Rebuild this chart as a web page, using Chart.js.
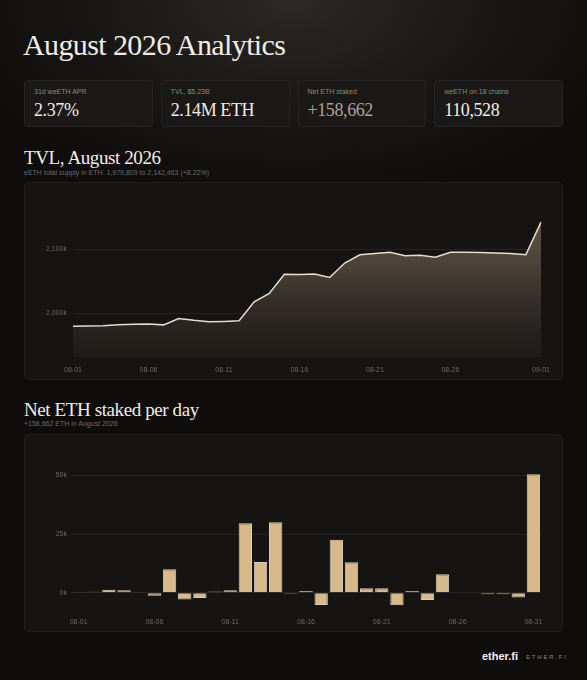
<!DOCTYPE html>
<html>
<head>
<meta charset="utf-8">
<script src="https://cdn.jsdelivr.net/npm/chart.js@4.4.1/dist/chart.umd.min.js"></script>
<style>
  html, body { margin: 0; padding: 0; }
  body {
    width: 587px; height: 680px; position: relative; overflow: hidden;
    background: radial-gradient(ellipse 60% 30% at 50% 0%, #2b2825 0%, #181614 60%, #0f0d0c 100%), #0f0d0c;
    background-color: #0f0d0c;
    font-family: "Liberation Sans", Arial, sans-serif;
  }
  .serif { font-family: "Liberation Serif", "DejaVu Serif", serif; }
  h1 {
    position: absolute; left: 23px; top: 30px; margin: 0;
    font-weight: normal; font-size: 30px; line-height: 30px; letter-spacing: -0.6px;
    color: #f1ece4;
  }
  .stats { position: absolute; left: 24px; top: 80px; width: 539px; display: flex; gap: 8px; }
  .stat {
    flex: 1; height: 47px; box-sizing: border-box; border-radius: 4px;
    background: #1b1917; border: 1px solid rgba(255,255,255,0.05); position: relative;
  }
  .stat .lab { position: absolute; left: 9px; top: 7px; font-size: 7px; color: #8d877e; }
  .stat .val { position: absolute; left: 9px; top: 19px; font-size: 18px; line-height: 20px; letter-spacing: -0.4px; color: #f1ece4; }
  .stat .val.dim { color: #a9a299; }
  h2 {
    position: absolute; left: 24px; margin: 0; font-weight: normal;
    font-size: 19px; line-height: 19px; letter-spacing: -0.4px; color: #f1ece4;
  }
  .sub { position: absolute; left: 24px; font-size: 7px; color: #6e6a65; }
  .card {
    position: absolute; left: 24px; width: 539px; height: 198px; box-sizing: border-box;
    background: #161412; border: 1px solid rgba(255,255,255,0.05); border-radius: 5px;
  }
  .card canvas { position: absolute; left: -1px; top: -1px; }
  .logo { position: absolute; left: 482px; top: 650px; font-size: 11px; font-weight: bold; color: #f4f0ea; }
  .brand { position: absolute; left: 526px; top: 654px; font-size: 6px; letter-spacing: 1.8px; color: #8a847c; }
</style>
</head>
<body>
<h1 class="serif">August 2026 Analytics</h1>

<div class="stats">
  <div class="stat"><div class="lab">31d weETH APR</div><div class="val serif">2.37%</div></div>
  <div class="stat"><div class="lab">TVL, $5.23B</div><div class="val serif">2.14M ETH</div></div>
  <div class="stat"><div class="lab">Net ETH staked</div><div class="val serif dim">+158,662</div></div>
  <div class="stat"><div class="lab">weETH on 18 chains</div><div class="val serif">110,528</div></div>
</div>

<h2 class="serif" style="top:148px">TVL, August 2026</h2>
<div class="sub" style="top:169px">eETH total supply in ETH. 1,979,809 to 2,142,463 (+8.22%)</div>
<div class="card" style="top:182px"><canvas id="tvl" width="539" height="198"></canvas></div>

<h2 class="serif" style="top:400px">Net ETH staked per day</h2>
<div class="sub" style="top:420px">+158,662 ETH in August 2026</div>
<div class="card" style="top:434px"><canvas id="net" width="539" height="198"></canvas></div>

<div class="logo">ether.fi</div>
<div class="brand">ETHER.FI</div>

<script>
const tvlDates = ['08-01', '08-02', '08-03', '08-04', '08-05', '08-06', '08-07', '08-08', '08-09', '08-10',
  '08-11', '08-12', '08-13', '08-14', '08-15', '08-16', '08-17', '08-18', '08-19', '08-20',
  '08-21', '08-22', '08-23', '08-24', '08-25', '08-26', '08-27', '08-28', '08-29', '08-30',
  '08-31', '09-01']
const tvlEth = [1979809, 1980200, 1980600, 1981900, 1982900, 1983200, 1981900, 1991900, 1989000, 1986700,
  1987200, 1988200, 2017800, 2030900, 2060900, 2060500, 2061200, 2055900, 2078500, 2091500,
  2093400, 2095300, 2089900, 2090600, 2087500, 2095400, 2095200, 2095000, 2094300, 2093600,
  2091600, 2142463]
const tvlTicks = [2000000, 2100000]

const netDates = tvlDates.slice(0, 31)
const netStaked = [300, 400, 1300, 1000, 300, -1300, 10000, -2900, -2300, 500,
  1000, 29600, 13100, 30000, -400, 700, -5300, 22600, 13000, 1900,
  1900, -5400, 700, -3100, 7900, -200, -200, -700, -700, -2000,
  50500]
const netTicks = [0, 25000, 50000]

const tickFont = { family: 'Liberation Sans', size: 7 }
const tickColor = '#6c675f'
const gridColor = 'rgba(255,255,255,0.07)'

// every 5th day, plus the last one (dropping a 5th day that sits too close to it)
function keepTicks(scale) {
  const last = scale.ticks.length - 1
  scale.ticks = scale.ticks.filter((t, i) => i === last || (i % 5 === 0 && last - i >= 3))
}

function tvlChart() {
  const ctx = document.getElementById('tvl').getContext('2d')
  const config = {
    type: 'line',
    data: {
      labels: tvlDates,
      datasets: [
        {
          data: tvlEth,
          borderColor: '#e6ddcf',
          borderWidth: 1.5,
          pointRadius: 0,
          tension: 0,
          fill: 'start',
          backgroundColor: (c) => {
            const area = c.chart.chartArea
            if (!area) return 'rgba(90,80,68,0.5)'
            const g = c.chart.ctx.createLinearGradient(0, area.top, 0, area.bottom)
            g.addColorStop(0, 'rgba(120,106,88,0.85)')
            g.addColorStop(0.45, 'rgba(88,78,66,0.75)')
            g.addColorStop(1, 'rgba(45,40,35,0.35)')
            return g
          }
        }
      ]
    },
    options: {
      responsive: false,
      animation: false,
      layout: { padding: { top: 20, right: 22, left: 0, bottom: 0 } },
      plugins: { legend: { display: false }, tooltip: { enabled: false } },
      scales: {
        x: {
          offset: false,
          grid: { display: false, drawTicks: false, tickLength: 0 },
          border: { display: false },
          ticks: { font: tickFont, color: tickColor, padding: 9, maxRotation: 0, autoSkip: false },
          afterBuildTicks: keepTicks,
          afterFit: (s) => { s.height = 23 }
        },
        y: {
          min: 1931700,
          max: 2173900,
          grid: { color: gridColor, drawTicks: false, tickLength: 0 },
          border: { display: false },
          ticks: {
            font: tickFont, color: tickColor, padding: 6,
            callback: (v) => (v / 1000).toLocaleString('en-US') + 'k'
          },
          afterBuildTicks: (s) => { s.ticks = tvlTicks.map(v => ({ value: v })) },
          afterFit: (s) => { s.width = 49 }
        }
      }
    }
  }
  new Chart(ctx, config)
}

function netChart() {
  const ctx = document.getElementById('net').getContext('2d')
  const config = {
    type: 'bar',
    data: {
      labels: netDates,
      datasets: [
        {
          data: netStaked,
          backgroundColor: '#d7b98a',
          borderColor: 'rgba(236,226,208,0.9)',
          borderWidth: 1,
          categoryPercentage: 1,
          barPercentage: 0.88
        }
      ]
    },
    options: {
      responsive: false,
      animation: false,
      layout: { padding: { top: 20, right: 22, left: 0, bottom: 0 } },
      plugins: { legend: { display: false }, tooltip: { enabled: false } },
      scales: {
        x: {
          grid: { display: false, drawTicks: false, tickLength: 0 },
          border: { display: false },
          ticks: { font: tickFont, color: tickColor, padding: 10, maxRotation: 0, autoSkip: false },
          afterBuildTicks: keepTicks,
          afterFit: (s) => { s.height = 24 }
        },
        y: {
          min: -6530,
          max: 59170,
          grid: { color: gridColor, drawTicks: false, tickLength: 0 },
          border: { display: false },
          ticks: {
            font: tickFont, color: tickColor, padding: 4,
            callback: (v) => (v / 1000) + 'k'
          },
          afterBuildTicks: (s) => { s.ticks = netTicks.map(v => ({ value: v })) },
          afterFit: (s) => { s.width = 47 }
        }
      }
    }
  }
  new Chart(ctx, config)
}

tvlChart()
netChart()
</script>
</body>
</html>
